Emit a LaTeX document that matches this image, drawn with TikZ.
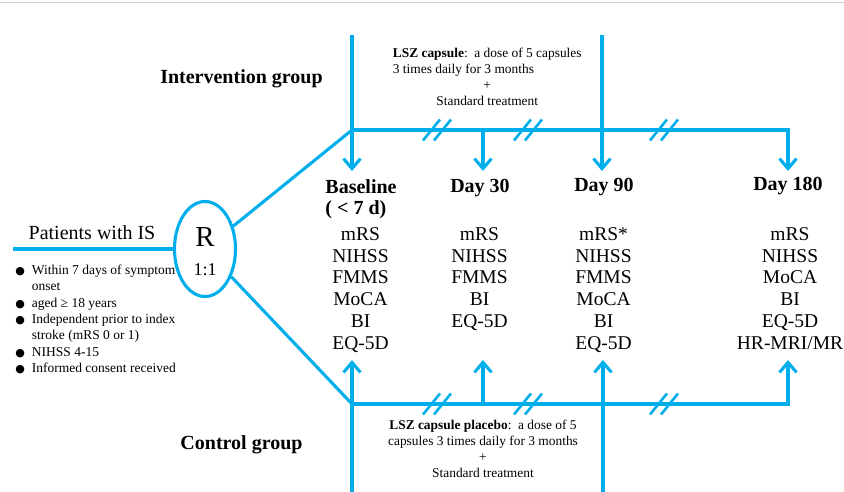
\documentclass[tikz,border=0pt]{standalone}
\usepackage{fontspec}
\setmainfont{Liberation Serif}
\newfontfamily\symfont{DejaVu Sans}
\usetikzlibrary{shapes.geometric, arrows.meta, positioning, calc}
\definecolor{armblue}{RGB}{0,174,236}
\newcommand{\critbullet}{\makebox[12pt]{\symfont\fontsize{11}{11}\selectfont ●}}

\begin{document}
\begin{tikzpicture}[x=1pt, y=-1pt,
    flow/.style={draw=armblue, line width=3.1pt},
    flowarr/.style={flow, -{Straight Barb[length=10pt, width=17pt]}},
    brk/.style={draw=armblue, line width=2.6pt},
    grp/.style={font=\fontsize{20}{22}\selectfont\bfseries, inner sep=0pt, anchor=base},
    visit/.style={font=\fontsize{20}{21.7}\selectfont\bfseries, inner sep=0pt, anchor=base},
    measures/.style={font=\fontsize{19.5}{21.8}\selectfont, align=center, inner sep=0pt, anchor=north},
    regimen/.style={font=\fontsize{13.4}{16}\selectfont, inner sep=0pt}]
    \useasboundingbox (0,0) rectangle (844,492);
    \draw[gray!40, line width=1.3pt] (0,2.5) -- (844,2.5);

    % randomisation
    \node (rand) [draw=armblue, line width=3.1pt, ellipse, minimum width=61pt, minimum height=95pt, inner sep=0pt] at (205,249) {};
    \node (rlet) [font=\fontsize{29}{29}\selectfont, anchor=base, inner sep=0pt] at (205,246.7) {R};
    \node (ratio) [font=\fontsize{18}{18}\selectfont, anchor=base, inner sep=0pt] at (205,275) {1:1};

    \node (pts) [font=\fontsize{20}{24}\selectfont, anchor=base, inner sep=0pt] at (92,240) {Patients with IS};
    \coordinate (ptsStart) at (13,249);
    \draw[flow] (ptsStart) -- (rand.west);

    \node (crit) [anchor=north west, inner sep=0pt, font=\fontsize{13.5}{16.3}\selectfont] at (14,263) {%
      \begin{tabular}{@{}p{17.7pt}@{}l@{}}
        \critbullet & Within 7 days of symptom\\
                    & onset\\
        \critbullet & aged ≥ 18 years\\
        \critbullet & Independent prior to index\\
                    & stroke (mRS 0 or 1)\\
        \critbullet & NIHSS 4-15\\
        \critbullet & Informed consent received
      \end{tabular}};

    % groups
    \node (intv) [grp] at (241.5,83.3) {Intervention group};
    \node (ctrl) [grp] at (241.5,449.3) {Control group};

    \node (armtxt) [regimen, anchor=north west] at (392.7,46) {%
      \begin{tabular}{@{}l@{}}
        \textbf{LSZ capsule}:\ \ a dose of 5 capsules\\
        3 times daily for 3 months\\
        \multicolumn{1}{@{}c@{}}{+}\\
        \multicolumn{1}{@{}c@{}}{Standard treatment}
      \end{tabular}};
    \node (ctrltxt) [regimen, anchor=north] at (483,418) {%
      \begin{tabular}{@{}c@{}}
        \textbf{LSZ capsule placebo}:\ \ a dose of 5\\
        capsules 3 times daily for 3 months\\
        +\\
        Standard treatment
      \end{tabular}};

    % visits
    \node (hBase) [visit, align=left, anchor=north] at (361,179) {Baseline\\( < 7 d)};
    \node (h30) [visit] at (480,193) {Day 30};
    \node (h90) [visit] at (604,191.7) {Day 90};
    \node (h180) [visit] at (788,190.7) {Day 180};

    \node (mBase) [measures] at (360.5,227.2) {mRS\\NIHSS\\FMMS\\MoCA\\BI\\EQ-5D};
    \node (m30) [measures] at (479.5,227.2) {mRS\\NIHSS\\FMMS\\BI\\EQ-5D};
    \node (m90) [measures] at (603.5,227.2) {mRS*\\NIHSS\\FMMS\\MoCA\\BI\\EQ-5D};
    \node (m180) [measures] at (790,227.2) {mRS\\NIHSS\\MoCA\\BI\\EQ-5D\\HR-MRI/MR};

    % intervention arm
    \coordinate (armTop) at (352,35);
    \coordinate (armSplit) at (352,130);
    \coordinate (a30) at (483,130);
    \coordinate (a90Top) at (602,35);
    \coordinate (tipBase) at (352,171);
    \coordinate (tip30) at (483,171);
    \coordinate (tip90) at (602,171);
    \coordinate (tip180) at (788,171);

    \draw[flow] (rand) -- (armSplit);
    \draw[flowarr] (armSplit) -| (tip180);
    \draw[flowarr] (armTop) -- (tipBase);
    \draw[flowarr] (a30) -- (tip30);
    \draw[flowarr] (a90Top) -- (tip90);

    % control arm
    \coordinate (ctrlBot) at (352,492);
    \coordinate (ctrlSplit) at (352,404);
    \coordinate (c30) at (483,404);
    \coordinate (c90Bot) at (603,492);
    \coordinate (upBase) at (352,360);
    \coordinate (up30) at (483,360);
    \coordinate (up90) at (603,360);
    \coordinate (up180) at (788,360);

    \draw[flow] (rand) -- (ctrlSplit);
    \draw[flowarr] (ctrlSplit) -| (up180);
    \draw[flowarr] (ctrlBot) -- (upBase);
    \draw[flowarr] (c30) -- (up30);
    \draw[flowarr] (c90Bot) -- (up90);

    % time breaks
    \foreach \bx/\by in {437/130, 528/130, 664/130, 437/404, 528/404, 664/404}
      \foreach \dx in {-5.5, 5.5}
        \draw[brk] (\bx+\dx-8.5, \by+10.5) -- (\bx+\dx+8.5, \by-10.5);
\end{tikzpicture}
\end{document}
